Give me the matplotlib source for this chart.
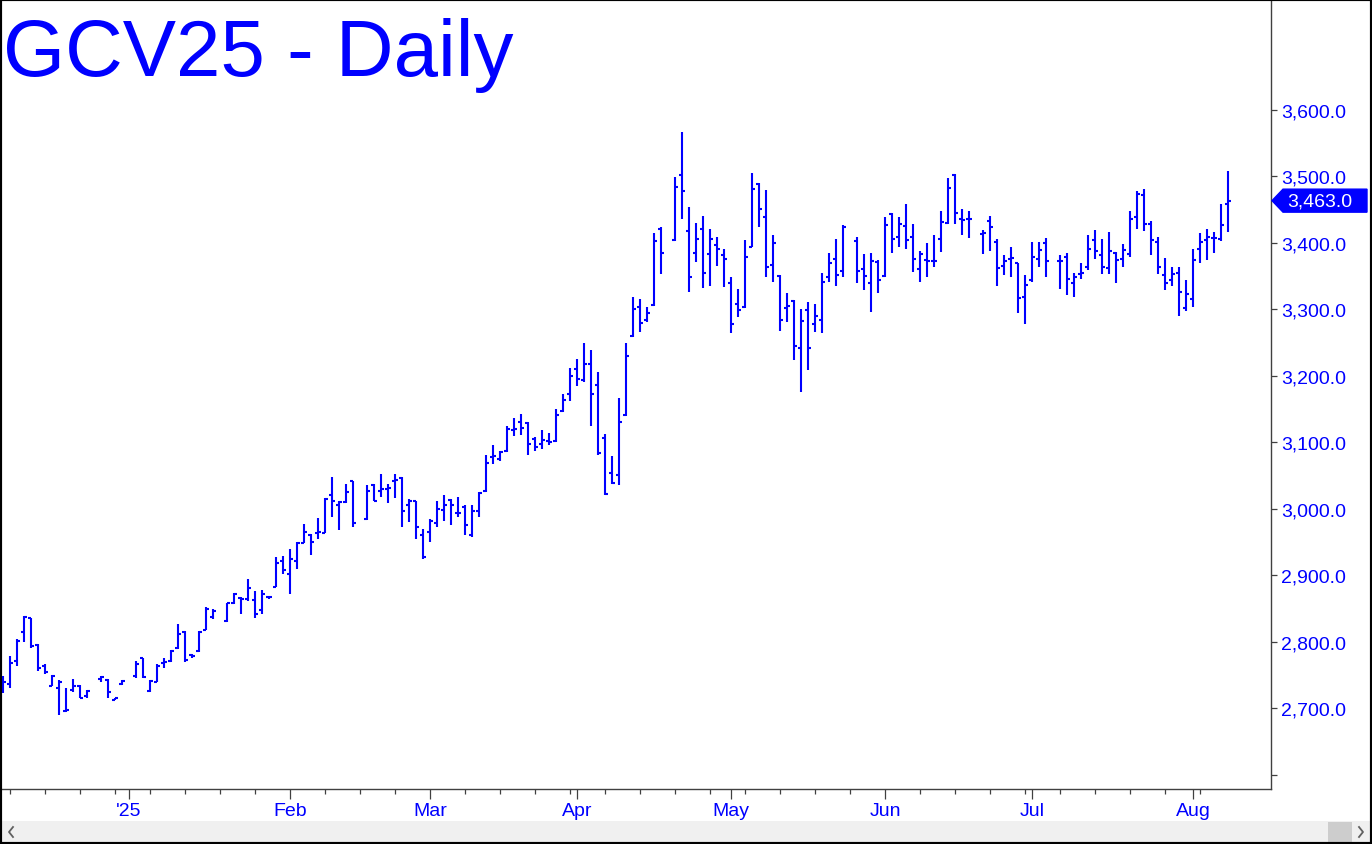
import numpy as np
import pandas as pd
import matplotlib
matplotlib.use('Agg')
import matplotlib.pyplot as plt
from matplotlib.patches import Rectangle, Polygon
from matplotlib.lines import Line2D
import matplotlib.transforms as mtransforms

# ---------------- data ----------------
first_day = '2024-12-06'
last_day = '2025-08-08'
holidays = ['2024-12-25', '2025-01-01', '2025-01-20', '2025-02-17',
            '2025-04-18', '2025-05-26', '2025-06-19', '2025-07-04']

opens = [2734, 2737, 2771, 2815, 2835, 2795, 2764, 2734, 2730, 2696, 2727, 2734, 2718,
         2744, 2743, 2713, 2736,
         2748, 2775, 2726, 2740, 2768, 2771, 2790, 2815, 2780, 2786, 2817, 2837,
         2831, 2858, 2866, 2864, 2863, 2847, 2867, 2883, 2922, 2902, 2922, 2949, 2961, 2964,
         2964, 3021, 3005, 3010, 3041,
         2985, 3036, 3026, 3030, 3042, 3046, 3006, 3011, 2960, 2965, 2979, 2998, 3013, 2993,
         3003, 2960, 2996, 3026, 3077, 3075, 3087, 3119, 3130, 3129, 3105, 3097, 3102, 3102,
         3147, 3172, 3210, 3194, 3218, 3186, 3106, 3054, 3050, 3141, 3259, 3303, 3283, 3306,
         3420,
         3404, 3501, 3418, 3384, 3420, 3383, 3396, 3381, 3339, 3308, 3303, 3394, 3488, 3439,
         3366, 3350, 3302, 3312, 3241, 3299, 3278, 3283, 3349, 3376, 3358,
         3403, 3360, 3339, 3371, 3350, 3443, 3409, 3425, 3408, 3360, 3374, 3372, 3405, 3430,
         3502, 3435, 3436,
         3413, 3433, 3401, 3365, 3375, 3369, 3318, 3343, 3375, 3399,
         3373, 3378, 3339, 3353, 3363, 3404, 3382, 3362, 3384, 3375, 3383, 3438, 3471, 3428,
         3401, 3351, 3344, 3355, 3302, 3315, 3390, 3404, 3407, 3405, 3458]
highs = [2748, 2779, 2804, 2838, 2836, 2796, 2766, 2750, 2743, 2731, 2744, 2735, 2727,
         2748, 2744, 2716, 2742,
         2771, 2776, 2743, 2766, 2775, 2788, 2826, 2816, 2781, 2816, 2852, 2849,
         2859, 2873, 2867, 2894, 2877, 2878, 2868, 2927, 2929, 2940, 2950, 2977, 2962, 2986,
         3016, 3047, 3011, 3037, 3042,
         3035, 3037, 3052, 3037, 3052, 3047, 3014, 3012, 2970, 2985, 3011, 3021, 3015, 3017,
         3006, 3006, 3025, 3080, 3096, 3087, 3125, 3136, 3142, 3130, 3108, 3118, 3114, 3150,
         3172, 3212, 3225, 3249, 3238, 3205, 3112, 3079, 3166, 3249, 3318, 3315, 3303, 3415,
         3424,
         3499, 3566, 3453, 3430, 3440, 3420, 3408, 3390, 3348, 3330, 3404, 3505, 3490, 3479,
         3411, 3351, 3324, 3314, 3300, 3310, 3308, 3355, 3385, 3405, 3426,
         3408, 3383, 3385, 3374, 3438, 3445, 3438, 3458, 3428, 3388, 3399, 3411, 3448, 3497,
         3503, 3451, 3447,
         3419, 3440, 3406, 3381, 3393, 3370, 3351, 3401, 3401, 3407,
         3381, 3384, 3355, 3369, 3411, 3419, 3405, 3416, 3386, 3398, 3448, 3478, 3480, 3433,
         3408, 3377, 3364, 3364, 3343, 3391, 3414, 3420, 3416, 3458, 3507]
lows = [2723, 2730, 2764, 2800, 2791, 2756, 2751, 2733, 2690, 2694, 2725, 2715, 2716,
        2739, 2716, 2712, 2735,
        2746, 2745, 2725, 2739, 2760, 2769, 2789, 2770, 2776, 2785, 2817, 2834,
        2829, 2857, 2842, 2862, 2835, 2842, 2865, 2882, 2902, 2872, 2910, 2948, 2930, 2954,
        2963, 2988, 2968, 3008, 2972,
        2983, 3011, 3018, 3008, 3016, 2973, 2980, 2955, 2925, 2950, 2972, 2982, 2976, 2987,
        2960, 2958, 2987, 3025, 3067, 3071, 3085, 3109, 3111, 3080, 3086, 3090, 3095, 3101,
        3145, 3162, 3185, 3191, 3124, 3080, 3021, 3037, 3035, 3139, 3258, 3265, 3280, 3305,
        3353,
        3403, 3435, 3326, 3371, 3331, 3334, 3365, 3333, 3264, 3288, 3301, 3393, 3424, 3349,
        3341, 3267, 3280, 3224, 3176, 3209, 3265, 3264, 3341, 3335, 3349,
        3339, 3329, 3296, 3324, 3349, 3384, 3394, 3390, 3356, 3340, 3348, 3363, 3386, 3428,
        3428, 3412, 3407,
        3383, 3388, 3335, 3351, 3349, 3294, 3278, 3341, 3363, 3348,
        3330, 3321, 3318, 3346, 3359, 3376, 3353, 3353, 3339, 3364, 3378, 3420, 3418, 3381,
        3353, 3328, 3334, 3290, 3297, 3303, 3370, 3374, 3384, 3403, 3416]
closes = [2739, 2768, 2801, 2837, 2793, 2760, 2754, 2748, 2740, 2697, 2733, 2716, 2726,
          2747, 2725, 2715, 2741,
          2766, 2747, 2741, 2764, 2769, 2786, 2811, 2772, 2778, 2815, 2849, 2846,
          2858, 2872, 2864, 2881, 2841, 2872, 2867, 2918, 2908, 2924, 2949, 2965, 2950, 2965,
          3014, 3012, 3010, 3025, 2978,
          3027, 3012, 3030, 3031, 3043, 2996, 3011, 2973, 2927, 2981, 2999, 3006, 3006, 2994,
          2976, 2997, 3024, 3069, 3079, 3085, 3120, 3120, 3121, 3097, 3092, 3104, 3100, 3141,
          3164, 3200, 3195, 3218, 3172, 3083, 3022, 3039, 3130, 3229, 3300, 3279, 3294, 3402,
          3384,
          3483, 3477, 3349, 3406, 3354, 3405, 3390, 3375, 3278, 3299, 3378, 3480, 3450, 3364,
          3400, 3284, 3305, 3244, 3282, 3241, 3289, 3340, 3370, 3352, 3423,
          3357, 3350, 3372, 3343, 3426, 3405, 3428, 3404, 3375, 3383, 3372, 3372, 3431, 3482,
          3445, 3434, 3436,
          3414, 3423, 3362, 3372, 3377, 3316, 3336, 3378, 3389, 3372,
          3372, 3345, 3349, 3354, 3391, 3387, 3364, 3387, 3374, 3389, 3435, 3473, 3428, 3404,
          3364, 3339, 3353, 3325, 3323, 3374, 3401, 3408, 3407, 3426, 3463]

month_labels = ["'25", 'Feb', 'Mar', 'Apr', 'May', 'Jun', 'Jul', 'Aug']
month_starts = ['2025-01-01', '2025-02-01', '2025-03-01', '2025-04-01',
                '2025-05-01', '2025-06-01', '2025-07-01', '2025-08-01']
price_ticks = [2600, 2700, 2800, 2900, 3000, 3100, 3200, 3300, 3400, 3500, 3600]
title = 'GCV25 - Daily'

# ---------------- figure ----------------
BLUE = '#0000ff'
W, H = 1372, 845
plt.rcParams['font.family'] = ['Liberation Sans', 'DejaVu Sans']
fig = plt.figure(figsize=(W / 100, H / 100), dpi=100)
fig.patch.set_facecolor('white')


def fx(px):
    return px / W


def fy(py):
    return 1 - py / H


ax_left, ax_right, ax_top, ax_bot = 0, 1271, 1, 790
ax = fig.add_axes([fx(ax_left), fy(ax_bot), fx(ax_right) - fx(ax_left), fy(ax_top) - fy(ax_bot)])
ax.set_facecolor('white')

days = pd.bdate_range(first_day, last_day)
pos = {d: k for k, d in enumerate(days)}
trade = [d for d in days if d.strftime('%Y-%m-%d') not in holidays]
assert len(trade) == len(opens) == len(highs) == len(lows) == len(closes)
x = np.array([pos[d] for d in trade], dtype=float)
o, h, l, c = map(np.array, (opens, highs, lows, closes))

ax.vlines(x, l, h, color=BLUE, lw=1.5, capstyle='butt')
ax.hlines(o, x - 0.45, x, color=BLUE, lw=1.5, capstyle='butt')
ax.hlines(c, x, x + 0.45, color=BLUE, lw=1.5, capstyle='butt')

px_per_day = 7.0
ax.set_xlim(-3 / px_per_day, (ax_right - 3) / px_per_day)
ax.set_ylim(2578.7, 3764.6)

# x ticks
major_pos = []
for m in month_starts:
    d = pd.Timestamp(m)
    while d.weekday() >= 5:
        d += pd.Timedelta(days=1)
    major_pos.append(pos[d])
minor_pos = [pos[d] for d in days if d.weekday() == 0]
ax.set_xticks(major_pos)
ax.set_xticklabels(month_labels)
ax.set_xticks(minor_pos, minor=True)
ax.tick_params(axis='x', which='major', direction='out', length=7.5, width=0.9,
               color='#404040', labelcolor=BLUE, labelsize=14, pad=2)
ax.tick_params(axis='x', which='minor', direction='out', length=3.5, width=0.9,
               color='#404040')

# y ticks
ax.yaxis.tick_right()
ax.set_yticks(price_ticks)
ax.set_yticklabels(['' if v == 2600 else f'{v:,.1f}' for v in price_ticks])
ax.tick_params(axis='y', direction='out', length=4, width=0.9, color='#404040',
               labelcolor=BLUE, labelsize=14, pad=3)

for s in ('top', 'left'):
    ax.spines[s].set_visible(False)
for s in ('right', 'bottom'):
    ax.spines[s].set_color('#404040')
    ax.spines[s].set_linewidth(1.0)

# title
fig.text(fx(3), fy(76), title, fontsize=57.5, color=BLUE, ha='left', va='baseline')

# last price marker
last = closes[-1]
ypix = ax.transData.transform((0, last))[1]
ident = mtransforms.IdentityTransform()
hh = 11.5
tip = 1272
poly = Polygon([[tip, ypix], [tip + 11, ypix + hh], [1367, ypix + hh],
                [1367, ypix - hh], [tip + 11, ypix - hh]], closed=True,
               facecolor=BLUE, edgecolor=BLUE, transform=ident)
fig.add_artist(poly)
fig.text(fx(1320), 0, f'{last:,.1f}', fontsize=14, color='white', ha='center',
         va='center', transform=mtransforms.blended_transform_factory(fig.transFigure, ident)) \
    .set_y(ypix)

# scrollbar
fig.add_artist(Rectangle((0, fy(844)), 1, fy(822) - fy(844), transform=fig.transFigure,
                         facecolor='#f0f0f0', edgecolor='none'))
fig.add_artist(Rectangle((fx(1328), fy(843)), fx(1352) - fx(1328), fy(823) - fy(843),
                         transform=fig.transFigure, facecolor='#cdcdcd', edgecolor='none'))
fig.add_artist(Line2D([fx(13), fx(9), fx(13)], [fy(828), fy(833), fy(838)],
                      transform=fig.transFigure, color='#606060', lw=1.3))
fig.add_artist(Line2D([fx(1359), fx(1363), fx(1359)], [fy(828), fy(833), fy(838)],
                      transform=fig.transFigure, color='#606060', lw=1.3))

# frame
fig.add_artist(Rectangle((0, 0), 1, 1, transform=fig.transFigure, fill=False,
                         edgecolor='black', lw=3.0))

fig.savefig('out.png', dpi=100, facecolor='white')
